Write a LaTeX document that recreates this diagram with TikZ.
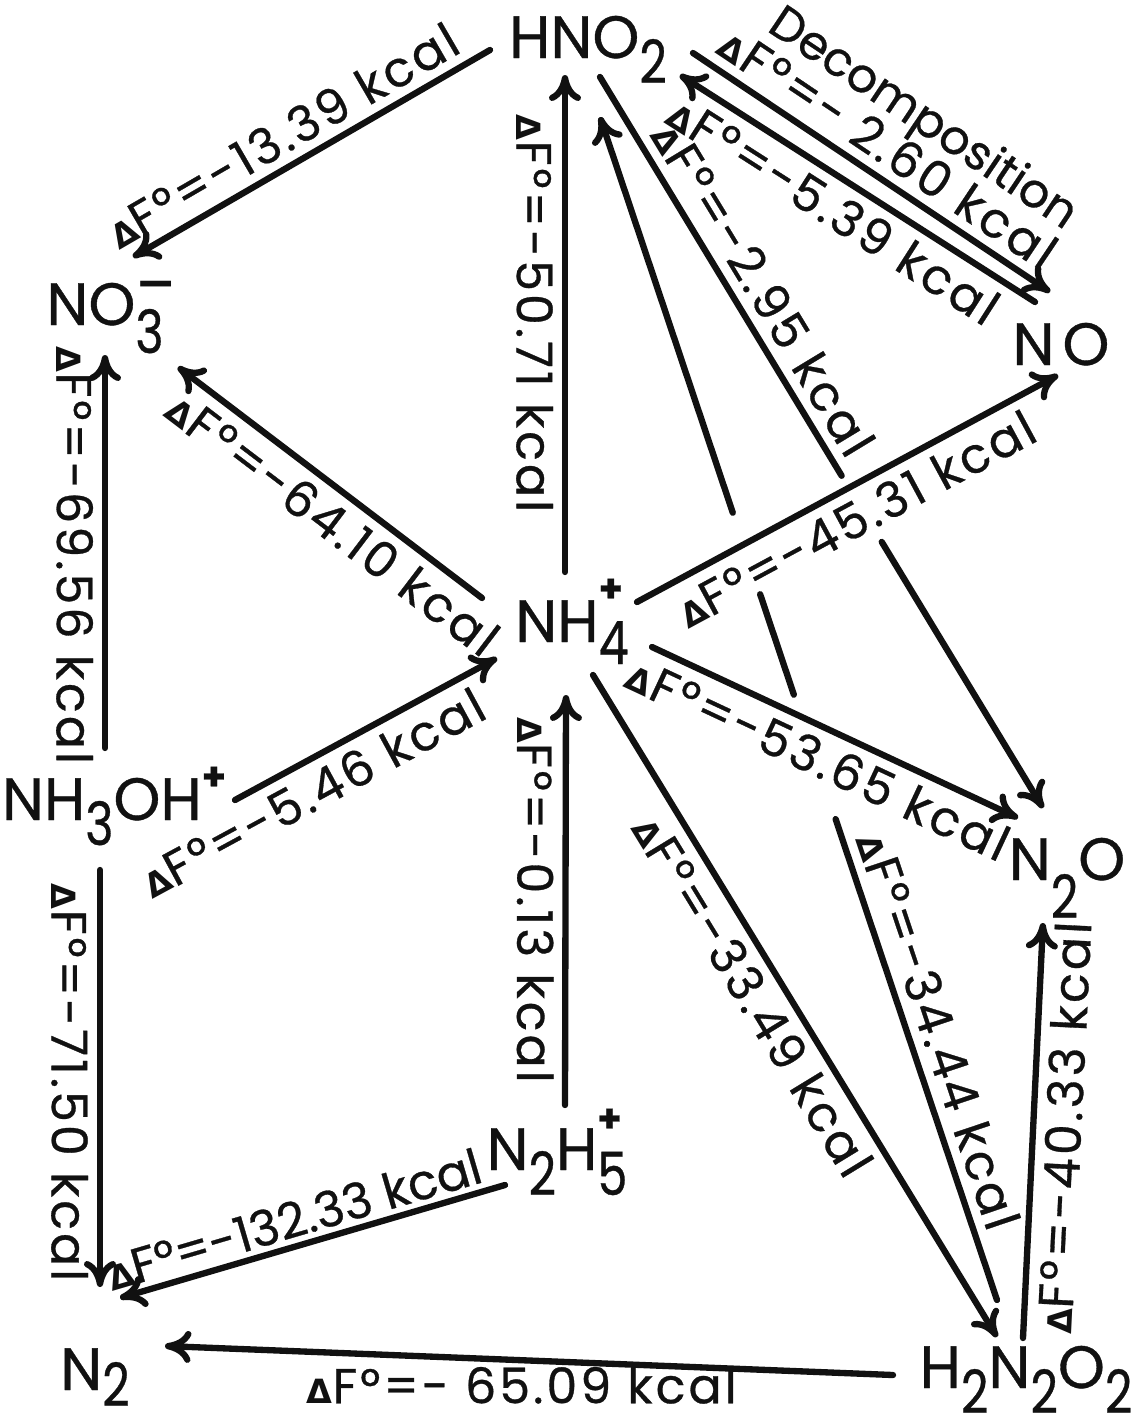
\documentclass[tikz,border=0pt]{standalone}
\usepackage{fontspec}
\usepackage{graphicx}
\setmainfont{Poppins}
\newfontfamily\deltafont{DejaVu Sans}
\newfontfamily\lblfam{Poppins}[LetterSpace=6, FakeBold=0.6]
\newfontfamily\chemfam{Poppins}[FakeBold=0.6]
\usepackage{tikz}
\usetikzlibrary{arrows.meta,calc}
\definecolor{ink}{HTML}{111111}
\newcommand{\chf}{\chemfam\fontsize{17}{20}\selectfont}
\newcommand{\lbf}{\lblfam\fontsize{14}{15}\selectfont}
\newcommand{\dcf}{\chemfam\fontsize{13.5}{15}\selectfont}
\newcommand{\tgf}{\chemfam\fontsize{14}{15}\selectfont}
\newcommand{\dn}[2][2.5mm]{\raisebox{-#1}{\scalebox{0.8}[1]{#2}}}
\newcommand{\ion}[1][4mm]{\raisebox{#1}{\fontsize{11}{11}\selectfont\bfseries +}}
\newcommand{\chg}{\raisebox{2.6mm}{\deltafont\bfseries\fontsize{14}{14}\selectfont −}}
\newcommand{\dF}{{\deltafont\bfseries\fontsize{9.5}{9.5}\selectfont Δ}F°}

\begin{document}
\begin{tikzpicture}[x=0.1mm, y=-0.1mm, text=ink,
  chem/.style={font=\chf, inner sep=0pt, text height=4.4mm, text depth=2.6mm},
  lbl/.style={font=\lbf, inner sep=2.5pt},
  ln/.style={line width=1.8pt, draw=ink, line cap=round},
  arr/.style={ln, -{To[length=2.6mm, width=3.2mm]}},
]
\useasboundingbox (0,0) rectangle (1145,1427);
% ---------------- species ----------------
\node[chem] (hno2) at (588,49) {HNO\dn{2}};
\node[chem] (no3) at (105,316) {NO\rlap{\chg}\dn[2.8mm]{3}};
\node[chem] (no) at (1061,356) {N\kern0.8mm O};
\node[chem] (nh4) at (572,633) {NH\rlap{\ion}\dn[2.2mm]{4}};
\node[chem] (nh3oh) at (114,811) {NH\dn{3}OH\ion[3mm]};
\node[chem] (n2o) at (1067,871) {N\dn[3.8mm]{2}O};
\node[chem] (n2h5) at (557,1161) {N\dn{2}H\rlap{\ion[3.8mm]}\dn{5}};
\node[chem] (n2) at (95,1381) {N\dn[1.6mm]{2}};
\node[chem] (h2n2o2) at (1026,1379) {H\dn{2}N\dn{2}O\dn{2}};

% ---------------- upper half ----------------
\draw[arr] ($(hno2)+(-98,1)$) -- ($(no3)+(28,-59)$)
  node[lbl, pos=.54, sloped, above] {\dF=-13.39 kcal};
\draw[arr] ($(nh4)+(-7,-61)$) -- ($(hno2)+(-23,26)$)
  node[lbl, pos=.52, rotate=-90, anchor=north] {\dF=-50.71 kcal};
\draw[arr] ($(hno2)+(105,4)$) -- ($(no)+(-11,-64)$)
  node[lbl, pos=.5, sloped, above] {\dF=- 2.60 kcal}
  node[lbl, font=\dcf, pos=.53, sloped, above=10pt] {Decomposition};
\draw[arr] ($(no)+(-26,-54)$) -- ($(hno2)+(92,26)$)
  node[lbl, pos=.52, sloped, below] {\dF=-5.39 kcal};
% long links, broken where they cross
\coordinate (a5) at ($(hno2)+(12,28)$);
\coordinate (b5) at ($(n2o)+(-24,-63)$);
\draw[ln] (a5) -- ($(a5)!.5455!(b5)$)
  node[lbl, pos=.57, sloped, above] {\dF=-2.95 kcal};
\draw[arr] ($(a5)!.636!(b5)$) -- (b5);
\coordinate (a6) at ($(h2n2o2)+(-29,-79)$);
\coordinate (b6) at ($(hno2)+(12,68)$);
\draw[ln] (a6) -- ($(a6)!.4065!(b6)$)
  node[lbl, pos=.54, sloped, above] {\dF=-34.44 kcal};
\draw[ln] ($(a6)!.5117!(b6)$) -- ($(a6)!.5966!(b6)$);
\draw[arr] ($(a6)!.6655!(b6)$) -- (b6);
\draw[arr] ($(nh4)+(65,-31)$) -- ($(no)+(-3,19)$)
  node[lbl, pos=.485, sloped, below] {\dF=-45.31 kcal};
\draw[arr] ($(nh4)+(80,14)$) -- ($(n2o)+(-49,-53)$)
  node[lbl, pos=.49, sloped, below] {\dF=-53.65 kcal};
\draw[arr] ($(nh4)+(-90,-35)$) -- ($(no3)+(73,51)$)
  node[lbl, pos=.43, sloped, below] {\dF=-64.10 kcal};
\draw[arr] ($(nh3oh)+(-9,-63)$) -- ($(no3)+(0,39)$)
  node[lbl, pos=.49, rotate=-90, anchor=north] {\dF=-69.56 kcal};
\draw[arr] ($(nh3oh)+(121,-11)$) -- ($(nh4)+(-75,25)$)
  node[lbl, pos=.24, sloped, below] {\dF=-5.46 kcal};

% ---------------- lower half ----------------
\draw[arr] ($(nh3oh)+(-14,59)$) -- ($(n2)+(5,-94)$)
  node[lbl, pos=.51, rotate=-90, anchor=north] {\dF=-71.50 kcal};
\draw[arr] ($(n2h5)+(8,-56)$) -- ($(nh4)+(-6,62)$)
  node[lbl, pos=.5, rotate=-90, anchor=north] {\dF=-0.13 kcal};
\draw[arr] ($(n2h5)+(-52,24)$) -- ($(n2)+(25,-83)$)
  node[lbl, font=\tgf, pos=.53, sloped, above, inner sep=1.5pt] {\dF=-132.33 kcal};
\draw[arr] ($(h2n2o2)+(-133,-4)$) -- ($(n2)+(70,-35)$)
  node[lbl, pos=.51, below, inner sep=1pt] {\dF=- 65.09 kcal};
\draw[arr] ($(nh4)+(21,42)$) -- ($(h2n2o2)+(-29,-42)$)
  node[lbl, pos=.46, sloped, below] {\dF=-33.49 kcal};
\draw[arr] ($(h2n2o2)+(-3,-41)$) -- ($(n2o)+(-24,52)$)
  node[lbl, pos=.51, sloped, below] {\dF=-40.33 kcal};
\end{tikzpicture}
\end{document}
